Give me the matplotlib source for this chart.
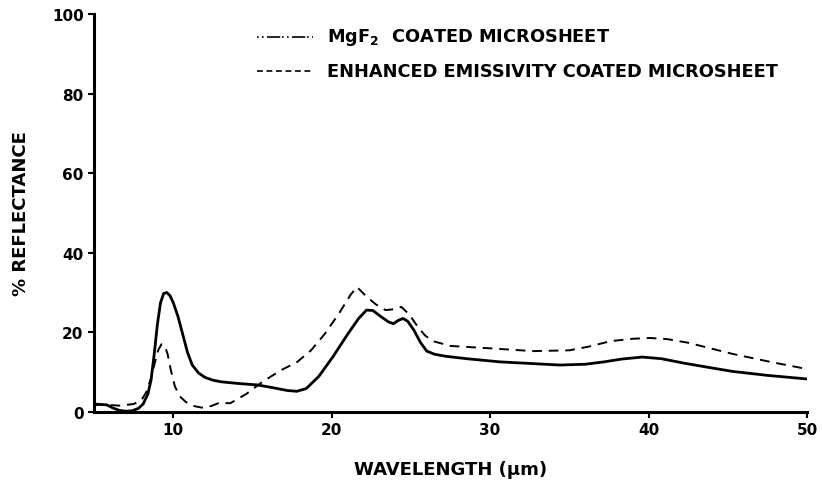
import numpy as np
import matplotlib.pyplot as plt
from matplotlib.lines import Line2D

# reflectance curves, wavelength in micrometres
wl_mgf2 = [5.0, 5.8, 6.2, 6.6, 7.0, 7.4, 7.8, 8.1, 8.4, 8.6, 8.8, 9.0, 9.2, 9.4,
           9.6, 9.8, 10.0, 10.3, 10.6, 10.9, 11.2, 11.6, 12.0, 12.5, 13.0, 14.0,
           15.3, 16.3, 17.2, 17.8, 18.4, 19.2, 20.1, 21.0, 21.7, 22.2, 22.6, 23.1,
           23.6, 23.9, 24.2, 24.5, 24.8, 25.2, 25.6, 26.0, 26.5, 27.2, 28.5, 30.6,
           32.5, 34.4, 36.0, 37.2, 38.3, 39.6, 40.8, 42.2, 43.8, 45.3, 47.5, 50.0]
r_mgf2 = [2.0, 1.8, 1.0, 0.4, 0.2, 0.3, 0.9, 2.0, 4.5, 8.0, 14.5, 22.0, 27.5, 29.8,
          30.0, 29.2, 27.5, 24.0, 19.5, 15.0, 11.8, 9.8, 8.7, 8.0, 7.6, 7.2,
          6.8, 6.1, 5.4, 5.2, 5.9, 9.0, 14.0, 19.5, 23.5, 25.6, 25.5, 24.0,
          22.6, 22.2, 23.0, 23.5, 22.8, 20.5, 17.5, 15.3, 14.5, 14.0, 13.4, 12.6,
          12.2, 11.8, 12.0, 12.6, 13.3, 13.8, 13.4, 12.3, 11.2, 10.2, 9.2, 8.3]

wl_ee = [5.0, 5.8, 6.6, 7.5, 8.0, 8.3, 8.6, 8.85, 9.05, 9.25, 9.45, 9.65, 9.85, 10.1,
         10.4, 10.8, 11.3, 11.8, 12.4, 12.9, 13.6, 14.6, 15.6, 16.8, 17.8, 18.7,
         19.6, 20.5, 21.2, 21.6, 22.2, 22.8, 23.4, 23.9, 24.4, 24.9, 25.4, 25.9,
         26.4, 27.5, 30.0, 32.7, 35.0, 36.2, 37.6, 39.0, 40.1, 41.2, 42.5, 45.3,
         47.8, 50.0]
r_ee = [1.8, 1.8, 1.6, 2.0, 3.0, 5.0, 8.5, 12.5, 15.5, 17.0, 16.8, 14.5, 10.5, 6.5,
        4.0, 2.5, 1.5, 1.1, 1.5, 2.3, 2.2, 4.5, 7.5, 10.5, 12.5, 15.5,
        19.8, 25.0, 29.5, 31.4, 29.0, 27.0, 25.6, 25.8, 26.4, 24.5, 21.6, 19.2,
        17.8, 16.6, 16.0, 15.3, 15.5, 16.4, 17.8, 18.4, 18.6, 18.3, 17.4, 14.6,
        12.5, 10.8]

xticks = [10, 20, 30, 40, 50]
yticks = [0, 20, 40, 60, 80, 100]

plt.rcParams['font.family'] = ['DejaVu Sans']
plt.rcParams['font.weight'] = 'bold'

W, H = 822, 489
fig = plt.figure(figsize=(W / 100, H / 100), dpi=100)
ax = fig.add_axes([94 / W, 1 - 413 / H, (807 - 94) / W, (413 - 15) / H])

ax.plot(wl_mgf2, r_mgf2, color='black', lw=2.0, solid_joinstyle='round')
ax.plot(wl_ee, r_ee, color='black', lw=1.4, dashes=(5, 3.5))

ax.set_xlim(5, 50)
ax.set_ylim(0, 100)
ax.set_xticks(xticks)
ax.set_yticks(yticks)
ax.tick_params(direction='out', length=4, width=1.5, labelsize=11)
for lab in ax.get_xticklabels() + ax.get_yticklabels():
    lab.set_fontweight('bold')

for side in ['top', 'right']:
    ax.spines[side].set_visible(False)
for side in ['left', 'bottom']:
    ax.spines[side].set_linewidth(2.2)

ax.set_xlabel('WAVELENGTH (μm)', fontsize=13, fontweight='bold', labelpad=16)
ax.set_ylabel('% REFLECTANCE', fontsize=13, fontweight='bold', labelpad=16)

# key, drawn by hand in figure pixels
key = [((1, 2, 1, 2, 8, 1), 'MgF$_\\mathbf{2}$  COATED MICROSHEET', 38),
       ((3.5, 2.2), 'ENHANCED EMISSIVITY COATED MICROSHEET', 72)]
for dash, text, ypx in key:
    yf = 1 - ypx / H
    fig.add_artist(Line2D([257 / W, 313 / W], [yf, yf], transform=fig.transFigure,
                          color='black', lw=1.2, dashes=dash))
    fig.text(327 / W, yf, text, fontsize=12.8, fontweight='bold', va='center')

fig.savefig('out.png', dpi=100)
